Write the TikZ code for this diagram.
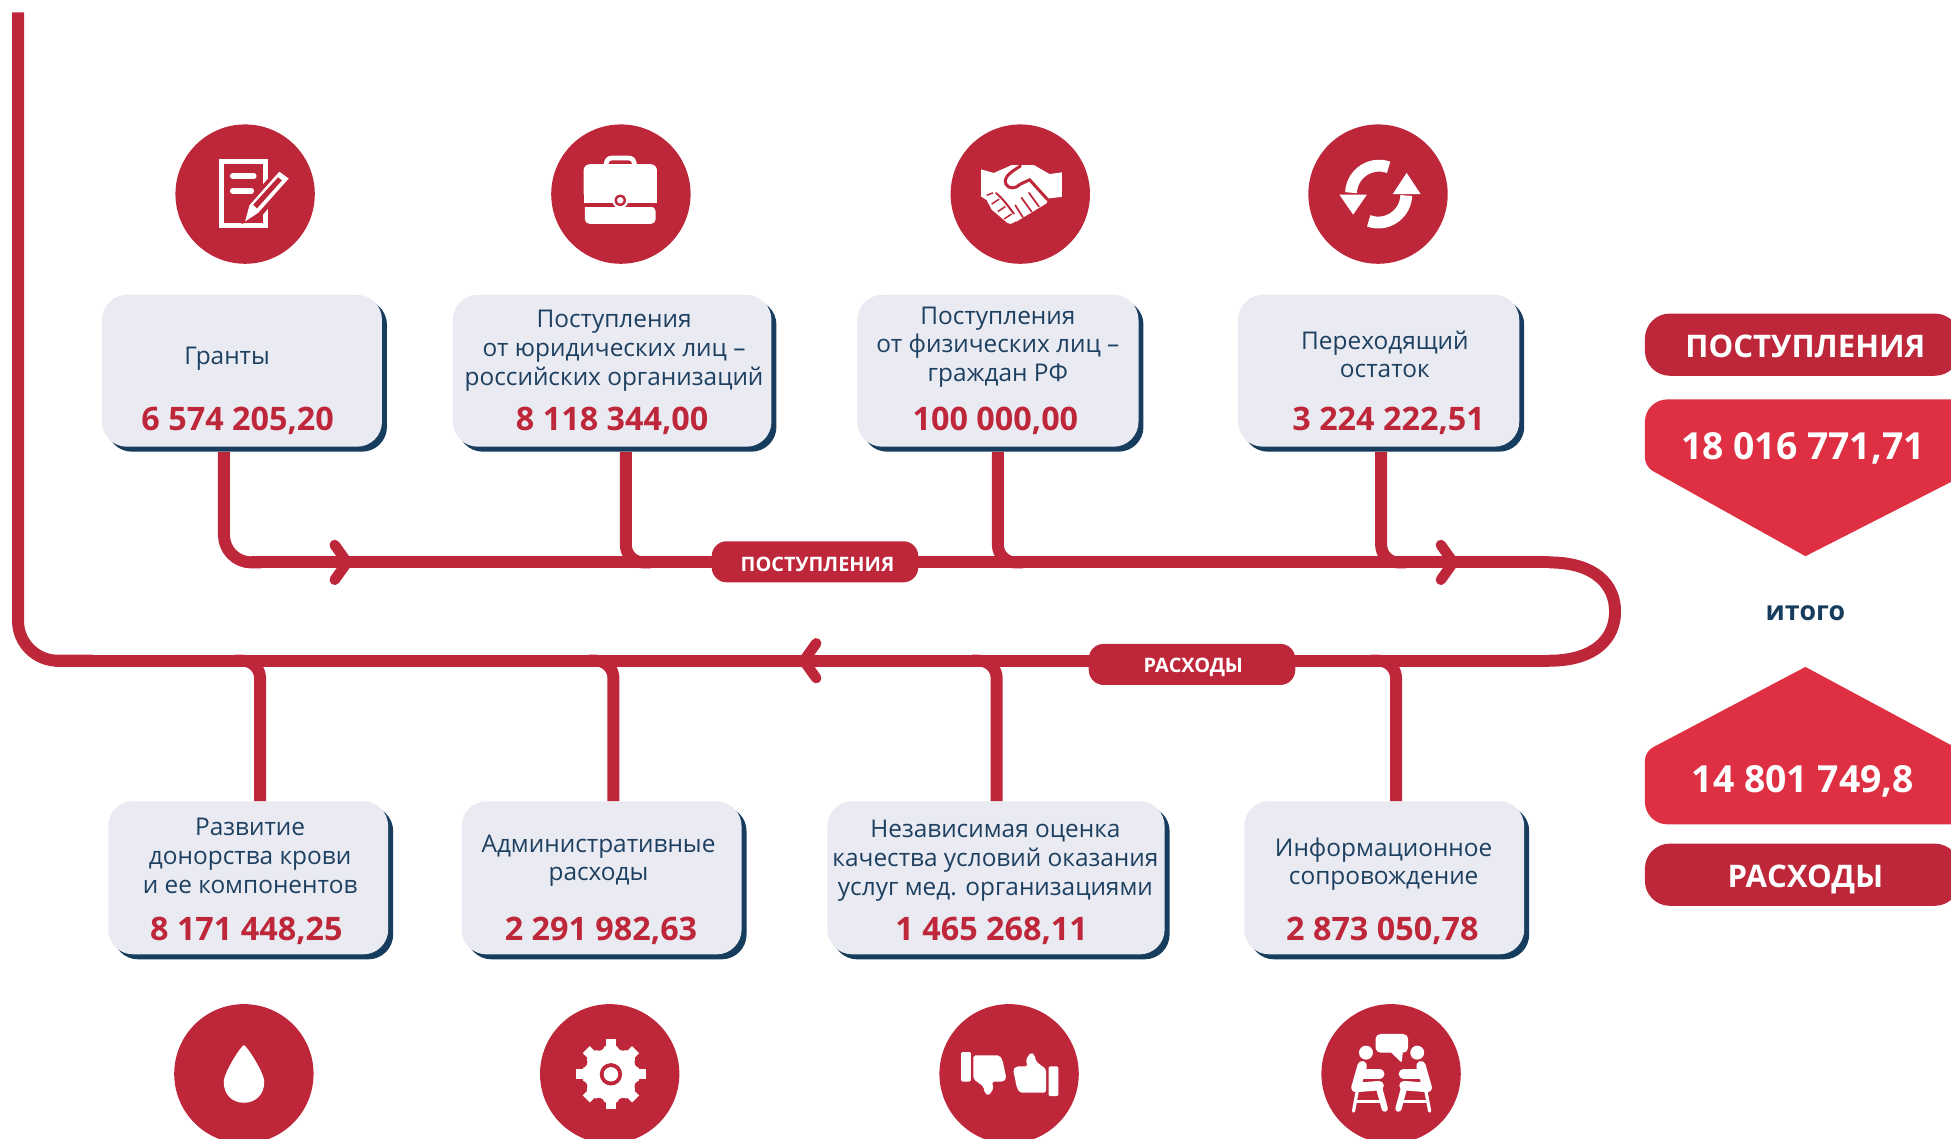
\documentclass[tikz,border=0pt]{standalone}
\usepackage{fontspec}
\setmainfont{Open Sans}
\usetikzlibrary{calc}
\definecolor{rd}{HTML}{BE273A}
\definecolor{brd}{HTML}{DF2F42}
\definecolor{nv}{HTML}{163C5E}
\definecolor{bx}{HTML}{E9EAF2}
\definecolor{tx}{HTML}{1E4060}
\tikzset{
  card/.style={fill=bx,rounded corners=20pt,inner sep=0pt},
  cardshadow/.style={fill=nv,rounded corners=20pt,inner sep=0pt},
  lbl/.style={text=tx,align=center,inner sep=0pt,yshift=-2pt,font=\fontsize{19.6}{23.2}\selectfont},
  lblb/.style={text=tx,align=center,inner sep=0pt,yshift=-2pt,font=\fontsize{19.6}{22.6}\selectfont},
  num/.style={text=rd,inner sep=0pt,yshift=-2.5pt,font=\fontsize{26}{30}\selectfont\bfseries},
  disc/.style={circle,fill=rd,minimum size=112pt,inner sep=0pt},
  wire/.style={draw=rd,line width=9.6pt},
  chev/.style={draw=rd,line width=8.4pt,line cap=round,line join=round},
  pill/.style={fill=rd,text=white,rounded corners=12pt,inner sep=0pt,minimum width=166pt,minimum height=33pt},
  pilltxt/.style={text=white,inner sep=0pt,yshift=-2pt,font=\fontsize{16}{18}\selectfont\bfseries},
  bigpill/.style={fill=rd,text=white,rounded corners=20pt,inner sep=0pt,minimum width=253pt,minimum height=50pt},
  bigtxt/.style={text=white,inner sep=0pt,yshift=-1.5pt,font=\fontsize{25}{28}\selectfont\bfseries},
  bignum/.style={text=white,inner sep=0pt,yshift=-2pt,font=\fontsize{30}{34}\selectfont\bfseries},
  ic/.style={draw=white,line cap=round,line join=round},
  icf/.style={fill=white},
}
\newcommand{\cardat}[5]{% name x1 y1 x2 y2
  \node[cardshadow,minimum width=#4pt-#2pt,minimum height=#5pt-#3pt] (#1s) at ({(#2+#4)/2+4},{(#3+#5)/2+4}) {};
  \node[card,minimum width=#4pt-#2pt,minimum height=#5pt-#3pt] (#1) at ({(#2+#4)/2},{(#3+#5)/2}) {};
}
\begin{document}
\begin{tikzpicture}[x=1pt,y=-1pt]
\useasboundingbox (0,0) rectangle (1568,915.4);
\clip (0,0) rectangle (1568,915.4);

% cards
\cardat{t1}{82}{237}{307}{359}
\cardat{t2}{364}{237}{620}{359}
\cardat{t3}{689}{237}{915}{359}
\cardat{t4}{995}{237}{1221}{359}
\cardat{b1}{87}{644}{312}{767}
\cardat{b2}{371}{644}{596}{767}
\cardat{b3}{665}{644}{936}{767}
\cardat{b4}{1000}{644}{1225}{767}

% junction coordinates
\coordinate (ja) at (180,452);
\coordinate (jb) at (503,452);
\coordinate (jc) at (802,452);
\coordinate (jd) at (1110,452);
\coordinate (ka) at (209,531);
\coordinate (kb) at (493,531);
\coordinate (kc) at (801,531);
\coordinate (kd) at (1122,531);
\coordinate (start) at (14.5,10);
\coordinate (corner) at (14.5,531);
\coordinate (ur) at (1245,452);
\coordinate (lr) at (1245,531);

% main line
\draw[wire] (ur) -- (jb) -- ([xshift=22pt]ja);
\draw[wire,rounded corners=22pt] (ja |- t1s.south) -- (ja) -- ([xshift=30pt]ja);
\draw[wire] (ur) .. controls (1282,452) and (1298,470) .. (1298,491.5) .. controls (1298,513) and (1282,531) .. (lr);
\draw[wire] (lr) -- ([xshift=30pt]corner);
\draw[wire,rounded corners=32pt] ([xshift=60pt]corner) -- (corner) -- (start);
% branches
\draw[wire,rounded corners=14pt] (jb |- t2s.south) -- (jb) -- ([xshift=20pt]jb);
\draw[wire,rounded corners=14pt] (jc |- t3s.south) -- (jc) -- ([xshift=20pt]jc);
\draw[wire,rounded corners=14pt] (jd |- t4s.south) -- (jd) -- ([xshift=20pt]jd);
\draw[wire,rounded corners=14pt] (ka |- b1.north) -- (ka) -- ([xshift=-20pt]ka);
\draw[wire,rounded corners=14pt] (kb |- b2.north) -- (kb) -- ([xshift=-20pt]kb);
\draw[wire,rounded corners=14pt] (kc |- b3.north) -- (kc) -- ([xshift=-20pt]kc);
\draw[wire,rounded corners=14pt] (kd |- b4.north) -- (kd) -- ([xshift=-20pt]kd);
% chevrons
\draw[chev] (269,438) -- (279,452) -- (269,466);
\draw[chev] (1158,438) -- (1168,452) -- (1158,466);
\draw[chev] (656,517) -- (646,531) -- (656,545);

% pills on the line
\node[pill] (p1) at (655,451.5) {};
\node[pilltxt] (p1t) at (657,451.5) {ПОСТУПЛЕНИЯ};
\node[pill] (p2) at (958,534) {};
\node[pilltxt] (p2t) at (959,534) {РАСХОДЫ};

% card texts
\node[lbl] (t1l) at (182.5,286) {Гранты};
\node[lbl] (t2l) at (493.5,280) {Поступления\\от юридических лиц –\\российских организаций};
\node[lbl] (t3l) at (802,277) {Поступления\\от физических лиц –\\граждан РФ};
\node[lblb] (t4l) at (1113,283) {Переходящий\\остаток};
\node[num] (t1n) at (191,336) {6 574 205,20};
\node[num] (t2n) at (492,336) {8 118 344,00};
\node[num] (t3n) at (800,336) {100 000,00};
\node[num] (t4n) at (1116,336) {3 224 222,51};
\node[lbl] (b1l) at (201,686) {Развитие\\донорства крови\\и ее компонентов};
\node[lblb] (b2l) at (481,690) {Административные\\расходы};
\node[lbl] (b3l) at (800,689.5) {Независимая оценка\\качества условий оказания\\услуг мед. организациями};
\node[lblb] (b4l) at (1112,692.5) {Информационное\\сопровождение};
\node[num] (b1n) at (198,746) {8 171 448,25};
\node[num] (b2n) at (483,746) {2 291 982,63};
\node[num] (b3n) at (797,746) {1 465 268,11};
\node[num] (b4n) at (1111,746) {2 873 050,78};

% right column
\node[bigpill] (rp1) at (1448.5,277) {};
\node[bigtxt] (rp1t) at (1451,277) {ПОСТУПЛЕНИЯ};
\node[bigpill] (rp2) at (1448.5,703) {};
\node[bigtxt] (rp2t) at (1451,705) {РАСХОДЫ};
\fill[brd] (1451,447) [rounded corners=7pt] -- (1322,375) [rounded corners=18pt] -- (1322,321) -- (1600,321) [sharp corners] -- (1600,371) -- cycle;
\fill[brd] (1451,536) [rounded corners=7pt] -- (1322,604) [rounded corners=18pt] -- (1322,662.5) [sharp corners] -- (1600,662.5) -- (1600,616) -- cycle;
\node[bignum] (rn1) at (1449,358) {18 016 771,71};
\node[bignum] (rn2) at (1449,626) {14 801 749,8};
\node[inner sep=0pt,text=nv,yshift=-2pt,font=\fontsize{21.5}{24}\selectfont\bfseries] (tot) at (1451,491) {итого};

% discs
\node[disc] (c1) at (197,156) {};
\node[disc] (c2) at (499,156) {};
\node[disc] (c3) at (820,156) {};
\node[disc] (c4) at (1107.5,156) {};
\node[disc] (c5) at (196,863) {};
\node[disc] (c6) at (490,863) {};
\node[disc] (c7) at (811,863) {};
\node[disc] (c8) at (1118,863) {};

% icon: document and pencil
\draw[ic,line width=4pt,line join=miter] (178,130) rectangle (213,181);
\draw[ic,line width=4.4pt] (187,141.5) -- (204,141.5);
\draw[ic,line width=4.4pt] (187,153.5) -- (202,153.5);
\fill[rd] (194,180) -- (198,163) -- (225,133) -- (237,143) -- (209,175) -- cycle;
\fill[white] (197,178) -- (200.5,165) -- (224.5,138) -- (232,143.5) -- (207.5,171) -- cycle;
\fill[rd] (203.5,164.5) -- (223.5,142.5) -- (226.5,145) -- (206.5,167.5) -- cycle;

% icon: briefcase
\draw[ic,line width=3.8pt] (487,134) .. controls (487,128.5) and (489,127) .. (492,127) -- (505,127) .. controls (508,127) and (510,128.5) .. (510,134);
\fill[white,rounded corners=5pt] (469,132) rectangle (528,160);
\fill[white] (469,150) rectangle (528,163) ;
\fill[white,rounded corners=4pt] (470,166) -- (470,180) -- (527,180) -- (527,166) [sharp corners] -- cycle;
\fill[rd] (466,163) rectangle (531,166.5);
\fill[white] (498.5,161) circle (6.5pt);
\fill[rd] (498.5,161) circle (4.6pt);
\fill[white] (498.5,161) circle (2.6pt);

% icon: handshake
\fill[white] (788.6,136.2) -- (798.7,139) -- (813,132.7) -- (831,132.7) -- (843.5,139.9) -- (853.5,138.5) -- (853.5,158.2) -- (842.5,159.5) -- (841,163.5) -- (817,178) -- (809.5,179) -- (797,168.5) -- (793,160.8) -- (788.6,158) -- cycle;
\draw[rd,line width=2.4pt,line cap=round] (820,133.5) .. controls (813,138) and (806,142) .. (808.5,148) .. controls (810.5,152) and (816,152) .. (820,148) -- (827.5,144.5) -- (842,160.5);
\draw[rd,line width=1.4pt,line cap=round] (835,166) -- (827,155);
\draw[rd,line width=1.4pt,line cap=round] (829,170) -- (821,159);
\draw[rd,line width=1.4pt,line cap=round] (822,174.5) -- (816,165);
\draw[rd,line width=1.6pt] (800,155) .. controls (805,158) and (812,168) .. (815,172);
\fill[white] (797,159) circle (4.5pt) (802,165) circle (4.5pt) (807,171) circle (4.5pt) (812,176) circle (4pt);
\draw[rd,line width=1.2pt] (793,157) -- (798,155) (797,164) -- (803,160) (802,170) -- (808,166) (807,176) -- (813,172);

% icon: refresh
\draw[white,line width=9.5pt] (1116,134.5) arc[start angle=-70,end angle=-178,radius=22.5];
\fill[white] (1076.5,156.5) -- (1098.5,156.5) -- (1087.5,172.5) -- cycle;
\draw[white,line width=9.5pt] (1100,177.5) arc[start angle=110,end angle=2,radius=22.5];
\fill[white] (1141.8,156) -- (1119.3,156) -- (1130.5,139) -- cycle;

% icon: drop
\fill[white] (196,840) .. controls (194,840) and (179.8,862) .. (179.8,869.5) .. controls (179.8,880) and (187,886.3) .. (196,886.3) .. controls (205,886.3) and (212.4,880) .. (212.4,869.5) .. controls (212.4,862) and (198,840) .. (196,840) -- cycle;

% icon: gear
\begin{scope}[shift={(491,863.4)}]
\fill[white] (0,0) circle (23pt);
\foreach \a in {0,45,...,315}{
  \draw[white,line width=8pt] (\a:18) -- (\a:28);
  \fill[rd] (\a+22.5:25.5) circle (4.6pt);
}
\fill[rd] (0,0) circle (9pt);
\fill[white] (0,0) circle (5.8pt);
\end{scope}

% icon: thumbs
\begin{scope}[shift={(811.5,863.2)}]
\foreach \r in {0,180}{
\begin{scope}[rotate=\r]
\fill[white,rounded corners=1pt] (-39,-17.7) rectangle (-31.3,6.1);
\fill[white,rounded corners=1.5pt] (-29.2,-15) -- (-8.2,-15) -- (-5.8,-11.3) -- (-3.6,-0.6) -- (-2.7,3.5) -- (-5.2,6.1) -- (-14.4,6.1) -- (-12.9,11.5) -- (-16.9,17.4) -- (-19.9,15.5) -- (-21.2,10) -- (-29.2,4) -- cycle;
\end{scope}}
\end{scope}

% icon: two people
\foreach \s in {1,-1}{
\begin{scope}[shift={(1118.4,0)},xscale=\s]
\fill[white] (-20.6,846) circle (5.6pt);
\draw[ic,line width=7.6pt] (-23.6,856.5) -- (-28.6,874) -- (-10,872.5);
\draw[ic,line width=7.6pt] (-22.5,863) -- (-9.5,863);
\draw[ic,line width=5pt] (-10.4,873) -- (-5.5,891);
\draw[ic,line width=2.6pt] (-27.6,877) -- (-30.6,893);
\draw[ic,line width=2.4pt] (-28,885.5) -- (-8,885.5);
\end{scope}}
\fill[white,rounded corners=4pt] (1105.5,831) rectangle (1131.7,846);
\fill[white,rounded corners=1pt] (1117,845) -- (1126.5,854) -- (1127.5,845) -- cycle;
\end{tikzpicture}
\end{document}
